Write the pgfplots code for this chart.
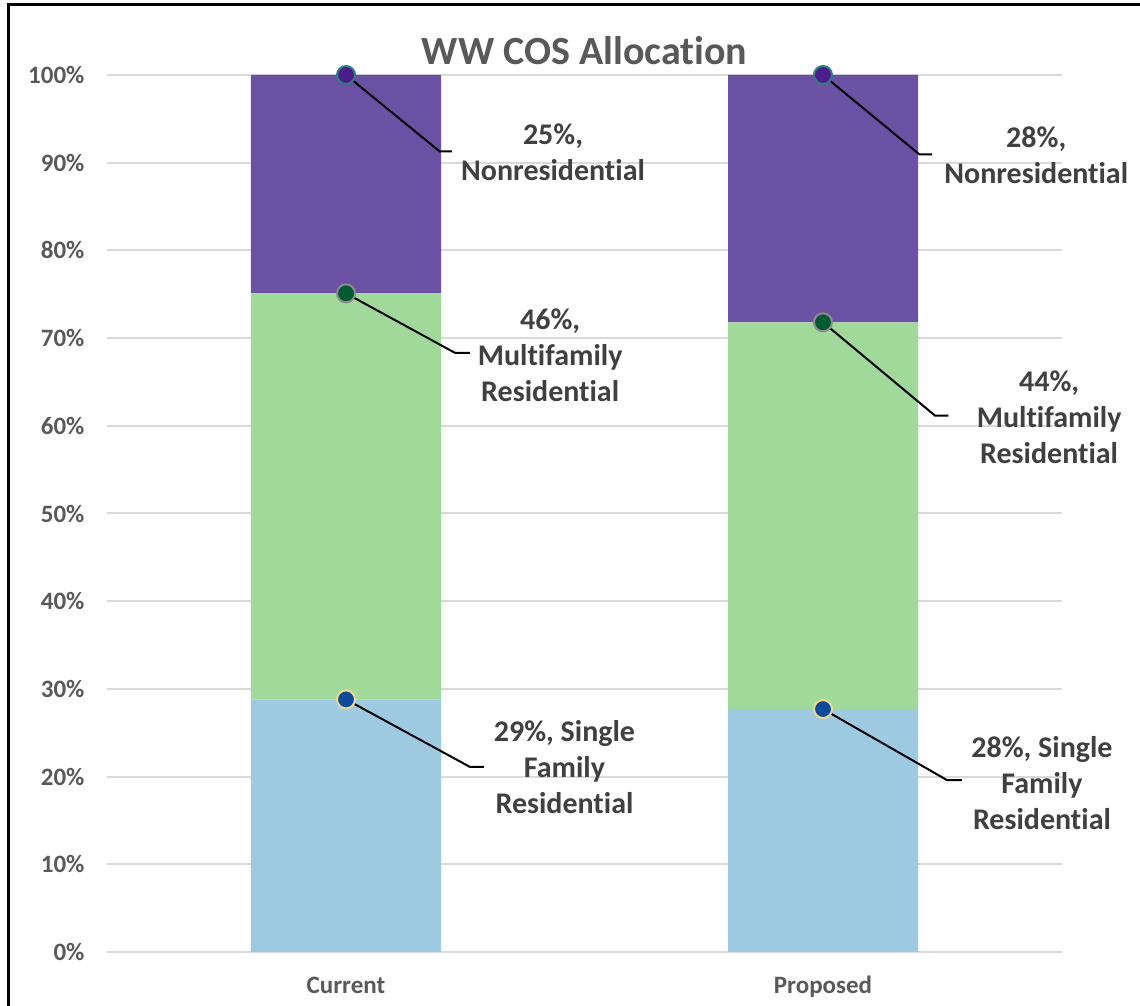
\documentclass[border=0pt]{standalone}
\usepackage{fontspec}
\setmainfont{Carlito}[RawFeature={-liga;-calt;-clig}]
\usepackage{pgfplots}
\pgfplotsset{compat=1.18}
\definecolor{sfr}{HTML}{9ECAE1}
\definecolor{mfr}{HTML}{A1D99B}
\definecolor{nres}{HTML}{6A51A3}
\definecolor{sfrd}{HTML}{0B4A9A}
\definecolor{mfrd}{HTML}{005A32}
\definecolor{nresd}{HTML}{4A1C8C}
\definecolor{sfro}{HTML}{F0D890}
\definecolor{mfro}{HTML}{8C8C8C}
\definecolor{nreso}{HTML}{2E8080}
\definecolor{grid}{HTML}{D9D9D9}
\definecolor{tick}{HTML}{595959}
\definecolor{lbl}{HTML}{404040}

\pgfplotsset{
  base/.style={at={(0pt,0pt)},anchor=south west,
    scale only axis,width=477pt,height=438.5pt,
    xmin=-0.5,xmax=1.5,ymin=0,ymax=100,clip=false}
}
\tikzset{lab/.style={font=\bfseries\fontsize{15}{18}\selectfont,text=lbl,align=center}}

\begin{document}
\begin{tikzpicture}
\useasboundingbox (-53.75pt,-27pt) rectangle (516.25pt,476pt);
\draw[line width=1.5pt] (-49.25pt,-40pt) -- (-49.25pt,473.5pt) -- (530pt,473.5pt);

\begin{axis}[base,
  ybar stacked,bar width=95pt,
  xtick={0,1},xticklabels={Current,Proposed},
  ytick={0,10,...,100},yticklabel={\pgfmathprintnumber{\tick}\%},
  ymajorgrids,grid style={line width=1pt,color=grid},
  axis line style={draw=none},major tick length=0pt,
  tick label style={font=\bfseries\fontsize{12.5}{15}\selectfont,text=tick},
  /pgf/number format/assume math mode=true,
  xticklabel style={anchor=base,yshift=-20.5pt},
  yticklabel style={anchor=east,xshift=-8pt},
  title={WW COS Allocation},
  title style={font=\bfseries\fontsize{20}{24}\selectfont,text=tick,
    anchor=center,at={(0.5,1)},yshift=6pt}]
  \addplot[fill=sfr,draw=none] coordinates {(0,28.8)(1,27.7)};
  \addplot[fill=mfr,draw=none] coordinates {(0,46.3)(1,44.1)};
  \addplot[fill=nres,draw=none] coordinates {(0,24.9)(1,28.2)};
\end{axis}

\begin{axis}[base,hide axis]
  % cumulative tops, where the leader lines start
  \addplot[only marks,mark=*,mark size=4.5pt,mark options={fill=sfrd,draw=sfro,line width=1pt}]
    coordinates {(0,28.8)(1,27.7)};
  \addplot[only marks,mark=*,mark size=4.5pt,mark options={fill=mfrd,draw=mfro,line width=1pt}]
    coordinates {(0,75.1)(1,71.8)};
  \addplot[only marks,mark=*,mark size=4.5pt,mark options={fill=nresd,draw=nreso,line width=1pt}]
    coordinates {(0,100)(1,100)};

  \draw[line width=1pt] (axis cs:0,100) -- (axis cs:0.196,91.3) -- (axis cs:0.222,91.3);
  \draw[line width=1pt] (axis cs:0,75.1) -- (axis cs:0.229,68.3) -- (axis cs:0.26,68.3);
  \draw[line width=1pt] (axis cs:0,28.8) -- (axis cs:0.26,21.1) -- (axis cs:0.289,21.1);
  \draw[line width=1pt] (axis cs:1,100) -- (axis cs:1.202,90.95) -- (axis cs:1.229,90.95);
  \draw[line width=1pt] (axis cs:1,71.8) -- (axis cs:1.235,61.15) -- (axis cs:1.263,61.15);
  \draw[line width=1pt] (axis cs:1,27.7) -- (axis cs:1.26,19.6) -- (axis cs:1.291,19.6);

  \node[lab] at (axis cs:0.434,91.16) {25\%,\\Nonresidential};
  \node[lab] at (axis cs:0.428,68.07) {46\%,\\Multifamily\\Residential};
  \node[lab] at (axis cs:0.458,21.09) {29\%, Single\\Family\\Residential};
  \node[lab] at (axis cs:1.447,90.88) {28\%,\\Nonresidential};
  \node[lab] at (axis cs:1.474,61.0) {44\%,\\Multifamily\\Residential};
  \node[lab] at (axis cs:1.459,19.27) {28\%, Single\\Family\\Residential};
\end{axis}
\end{tikzpicture}
\end{document}
